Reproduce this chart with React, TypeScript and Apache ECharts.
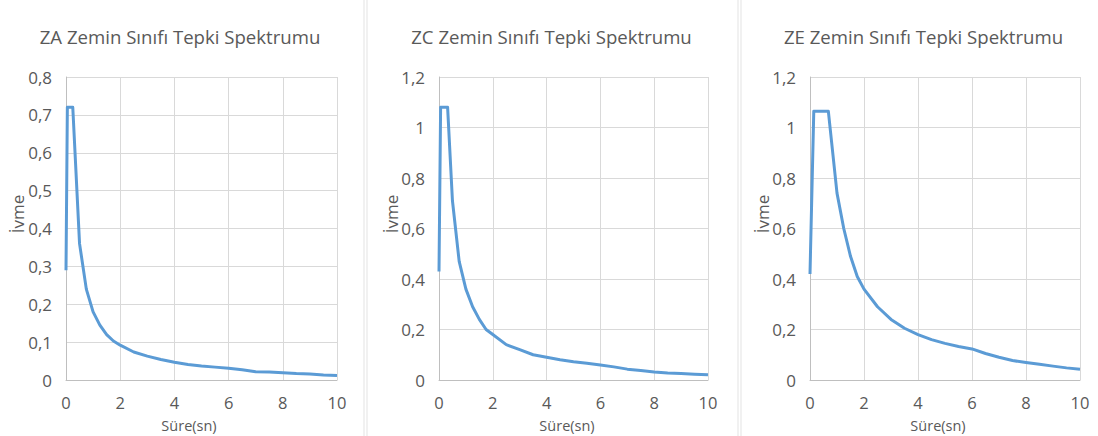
import React, { useEffect, useRef } from "react";
import * as echarts from "echarts";

// ---- data ----
const titles = [
  "ZA Zemin Sınıfı Tepki Spektrumu",
  "ZC Zemin Sınıfı Tepki Spektrumu",
  "ZE Zemin Sınıfı Tepki Spektrumu",
];
const xAxisName = "Süre(sn)";
const yAxisName = "İvme";

const xTicks = [0, 2, 4, 6, 8, 10];
const zaYTicks = [0, 0.1, 0.2, 0.3, 0.4, 0.5, 0.6, 0.7, 0.8];
const zcYTicks = [0, 0.2, 0.4, 0.6, 0.8, 1, 1.2];
const zeYTicks = [0, 0.2, 0.4, 0.6, 0.8, 1, 1.2];

const zaPeriod = [0, 0.05, 0.25, 0.5, 0.75, 1, 1.25, 1.5, 1.75, 2, 2.5, 3, 3.5, 4, 4.5, 5, 5.5, 6, 6.5, 7, 7.5, 8, 8.5, 9, 9.5, 10];
const zaAccel = [0.29, 0.72, 0.72, 0.36, 0.24, 0.18, 0.145, 0.12, 0.103, 0.092, 0.074, 0.063, 0.054, 0.047, 0.041, 0.037, 0.034, 0.031, 0.027, 0.022, 0.021, 0.019, 0.017, 0.016, 0.013, 0.012];

const zcPeriod = [0, 0.06, 0.32, 0.5, 0.75, 1, 1.25, 1.5, 1.75, 2, 2.5, 3, 3.5, 4, 4.5, 5, 5.5, 6, 6.5, 7, 7.5, 8, 8.5, 9, 9.5, 10];
const zcAccel = [0.43, 1.08, 1.08, 0.71, 0.47, 0.36, 0.29, 0.24, 0.2, 0.18, 0.14, 0.12, 0.1, 0.09, 0.08, 0.072, 0.066, 0.059, 0.052, 0.043, 0.038, 0.032, 0.028, 0.026, 0.023, 0.021];

const zePeriod = [0, 0.14, 0.68, 1, 1.25, 1.5, 1.75, 2, 2.5, 3, 3.5, 4, 4.5, 5, 5.5, 6, 6.5, 7, 7.5, 8, 8.5, 9, 9.5, 10];
const zeAccel = [0.42, 1.064, 1.064, 0.74, 0.6, 0.49, 0.41, 0.36, 0.29, 0.24, 0.205, 0.18, 0.16, 0.145, 0.133, 0.123, 0.105, 0.09, 0.077, 0.069, 0.062, 0.055, 0.048, 0.043];

// ---- layout / style ----
const FONT = "'Open Sans', sans-serif";
const TEXT_COLOR = "#595959";
const LINE_COLOR = "#5B9BD5";
const GRID_COLOR = "#d9d9d9";

const panels = [
  { left: 66, width: 271, titleX: 180, yNameX: 17.5, xNameX: 189, period: zaPeriod, accel: zaAccel, yTicks: zaYTicks },
  { left: 439, width: 269, titleX: 551.5, yNameX: 391, xNameX: 567, period: zcPeriod, accel: zcAccel, yTicks: zcYTicks },
  { left: 810, width: 270, titleX: 923.5, yNameX: 762.5, xNameX: 938, period: zePeriod, accel: zeAccel, yTicks: zeYTicks },
];
const GRID_TOP = 77;
const GRID_HEIGHT = 303;

const fmt = (v: number) => {
  if (v === 0) return "0";
  const s = String(Number(v.toFixed(2)));
  return s.replace(".", ",");
};

export default function App() {
  const ref = useRef<HTMLDivElement>(null);

  useEffect(() => {
    document.body.style.margin = "0";
    if (!ref.current) return;
    const chart = echarts.init(ref.current, undefined, { renderer: "svg" });

    const graphics: any[] = [];
    // cell-border style separators
    [364, 367, 738, 741].forEach((x) => {
      graphics.push({
        type: "line",
        silent: true,
        shape: { x1: x, y1: 0, x2: x, y2: 436 },
        style: { stroke: "#e3e3e3", lineWidth: 1 },
      });
    });
    panels.forEach((p) => {
      graphics.push({
        type: "text",
        x: p.yNameX,
        y: 214,
        rotation: Math.PI / 2,
        style: {
          text: yAxisName,
          fill: TEXT_COLOR,
          font: `17px ${FONT}`,
          align: "center",
          verticalAlign: "middle",
        },
      });
      graphics.push({
        type: "text",
        x: p.xNameX,
        y: 425,
        style: {
          text: xAxisName,
          fill: TEXT_COLOR,
          font: `14.5px ${FONT}`,
          lineHeight: 14.5,
          align: "center",
          verticalAlign: "middle",
        },
      });
    });

    const option: any = {
      animation: false,
      backgroundColor: "#ffffff",
      title: panels.map((p, i) => ({
        text: titles[i],
        left: p.titleX,
        top: 27,
        padding: 0,
        textAlign: "center",
        textStyle: {
          fontFamily: FONT,
          fontSize: 18.6,
          fontWeight: "normal",
          color: TEXT_COLOR,
        },
      })),
      grid: panels.map((p) => ({
        left: p.left,
        top: GRID_TOP,
        width: p.width,
        height: GRID_HEIGHT,
        containLabel: false,
      })),
      xAxis: panels.map((_, i) => ({
        type: "value",
        gridIndex: i,
        min: xTicks[0],
        max: xTicks[xTicks.length - 1],
        interval: xTicks[1] - xTicks[0],
        axisLine: { show: true, lineStyle: { color: "#bfbfbf", width: 1 } },
        axisTick: { show: false },
        splitLine: { show: true, lineStyle: { color: GRID_COLOR, width: 1 } },
        axisLabel: {
          margin: 14,
          color: TEXT_COLOR,
          fontFamily: FONT,
          fontSize: 16.5,
          lineHeight: 16.5,
          formatter: (v: number) => fmt(v),
        },
      })),
      yAxis: panels.map((p, i) => ({
        type: "value",
        gridIndex: i,
        min: p.yTicks[0],
        max: p.yTicks[p.yTicks.length - 1],
        interval: p.yTicks[1] - p.yTicks[0],
        axisLine: { show: true, lineStyle: { color: "#bfbfbf", width: 1 } },
        axisTick: { show: false },
        splitLine: { show: true, lineStyle: { color: GRID_COLOR, width: 1 } },
        axisLabel: {
          margin: 14,
          color: TEXT_COLOR,
          fontFamily: FONT,
          fontSize: 17,
          formatter: (v: number) => fmt(v),
        },
      })),
      series: panels.map((p, i) => ({
        type: "line",
        name: titles[i],
        xAxisIndex: i,
        yAxisIndex: i,
        showSymbol: false,
        symbol: "none",
        smooth: false,
        lineStyle: { color: LINE_COLOR, width: 3, join: "round" },
        data: p.period.map((t, k) => [t, p.accel[k]]),
      })),
      graphic: graphics,
    };

    chart.setOption(option);
    return () => chart.dispose();
  }, []);

  return (
    <div
      ref={ref}
      style={{ position: "absolute", left: 0, top: 0, width: 1098, height: 436 }}
    />
  );
}
